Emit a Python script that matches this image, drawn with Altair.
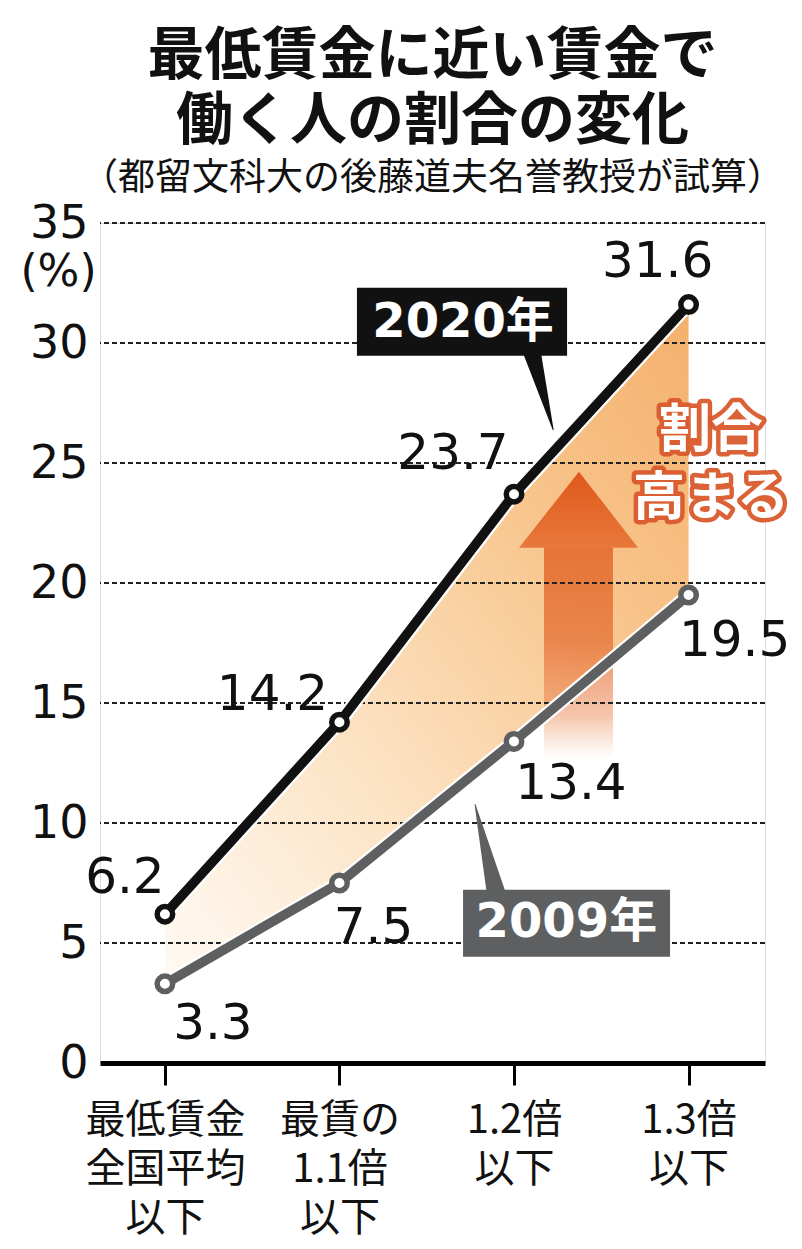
import json
import altair as alt
import pandas as pd

# ---------------- data ----------------
categories = ["最低賃金\n全国平均\n以下", "最賃の\n1.1倍\n以下", "1.2倍\n以下", "1.3倍\n以下"]
values_2020 = [6.2, 14.2, 23.7, 31.6]
values_2009 = [3.3, 7.5, 13.4, 19.5]
y_ticks = [0, 5, 10, 15, 20, 25, 30, 35]
series_names = ["2020年", "2009年"]
title_lines = ["最低賃金に近い賃金で", "働く人の割合の変化"]
subtitle_text = "（都留文科大の後藤道夫名誉教授が試算）"
callout_text = "割合\n高まる"

# ---------------- layout / style ----------------
W, H = 665, 840
X_DOMAIN = [-0.372, 3.438]
Y_DOMAIN = [0, 35]
PX_X = W / (X_DOMAIN[1] - X_DOMAIN[0])   # px per category step
PX_Y = H / (Y_DOMAIN[1] - Y_DOMAIN[0])   # px per percent

NUM_FONT = "DejaVu Sans, Noto Sans CJK JP"
JP_FONT = "Noto Sans CJK JP"
BLACK = "#111111"
GRAY = "#5e5f61"

# label offsets (pixels) relative to each point
OFF_2020 = [(-40, -36), (-67, -27), (-61, -40), (-31, -43)]
OFF_2009 = [(48, 40), (34, 45), (57, 43), (46, 46)]

idx = list(range(len(categories)))
df = pd.DataFrame({"xi": idx, "v2020": values_2020, "v2009": values_2009})

lab_rows = []
for i in idx:
    for vals, offs in ((values_2020, OFF_2020), (values_2009, OFF_2009)):
        dx, dy = offs[i]
        lab_rows.append({"lx": i + dx / PX_X, "ly": vals[i] - dy / PX_Y,
                         "t": f"{vals[i]:.1f}"})
labels_df = pd.DataFrame(lab_rows)

label_lines = [c.split("\n") for c in categories]
x_label_expr = json.dumps(label_lines, ensure_ascii=False) + "[datum.value]"

X_AXIS = alt.Axis(values=idx, labelExpr=x_label_expr, title=None, grid=False,
                  domain=True, domainColor="black", domainWidth=5,
                  ticks=True, tickSize=22, tickWidth=3, tickColor="black",
                  labelFont=JP_FONT, labelFontSize=40, labelLineHeight=49,
                  labelColor=BLACK, labelPadding=15, labelOverlap=False,
                  labelFlush=False)
Y_AXIS = alt.Axis(values=y_ticks, title="(%)", grid=False, domain=False, ticks=False,
                  labelFont=NUM_FONT, labelFontSize=46, labelColor=BLACK,
                  labelPadding=12, titleAngle=0, titleX=-42, titleY=49,
                  titleAlign="center", titleBaseline="middle",
                  titleFont=NUM_FONT, titleFontSize=44, titleFontWeight="normal",
                  titleColor=BLACK)
XS = alt.Scale(domain=X_DOMAIN, nice=False, zero=False)
YS = alt.Scale(domain=Y_DOMAIN, nice=False, zero=False)


def X(f):
    return alt.X(f"{f}:Q", scale=XS, axis=X_AXIS, title=None)


def Y(f):
    return alt.Y(f"{f}:Q", scale=YS, axis=Y_AXIS, title="(%)")


# ---------------- layers ----------------
area = alt.Chart(df).mark_area(
    color=alt.Gradient(gradient="linear", x1=0, y1=1, x2=1, y2=0, stops=[
        alt.GradientStop(offset=0, color="#fffaf4"),
        alt.GradientStop(offset=0.35, color="#fce3c4"),
        alt.GradientStop(offset=0.7, color="#f8c58c"),
        alt.GradientStop(offset=1, color="#f4b06c"),
    ])
).encode(x=X("xi"), y=Y("v2020"), y2="v2009")

# arrow annotation (data units)
shaft_df = pd.DataFrame({"x": [2.172], "x2": [2.567], "y": [21.6], "y2": [12.64]})
shaft = alt.Chart(shaft_df).mark_rect(
    fill=alt.Gradient(gradient="linear", x1=0, y1=0, x2=0, y2=1, stops=[
        alt.GradientStop(offset=0, color="rgba(230,115,55,1)"),
        alt.GradientStop(offset=0.45, color="rgba(231,122,64,0.85)"),
        alt.GradientStop(offset=0.8, color="rgba(235,140,90,0.5)"),
        alt.GradientStop(offset=1, color="rgba(240,170,130,0)"),
    ])
).encode(x=X("x"), x2="x2", y=Y("y"), y2="y2")

head_df = pd.DataFrame({"x": [2.029, 2.372, 2.711], "y": [21.47, 24.64, 21.47],
                        "y2": [21.47, 21.47, 21.47]})
head = alt.Chart(head_df).mark_area(
    color=alt.Gradient(gradient="linear", x1=0, y1=0, x2=0, y2=1, stops=[
        alt.GradientStop(offset=0, color="#df581b"),
        alt.GradientStop(offset=1, color="#e8783c"),
    ])
).encode(x=X("x"), y=Y("y"), y2="y2")

grid = alt.Chart(pd.DataFrame({"g": y_ticks[1:]})).mark_rule(
    color="#222222", strokeWidth=1.8, strokeDash=[5, 3]
).encode(y=Y("g"))


def series_layers(field, color):
    base = alt.Chart(df)
    halo = base.mark_line(color="white", strokeWidth=14).encode(x=X("xi"), y=Y(field))
    line = base.mark_line(color=color, strokeWidth=9.5).encode(x=X("xi"), y=Y(field))
    pts = base.mark_point(shape="circle", fill="white", stroke=color, strokeWidth=5.5,
                          size=240, opacity=1, fillOpacity=1, filled=False
                          ).encode(x=X("xi"), y=Y(field))
    return [halo, line, pts]


val_text = alt.Chart(labels_df).mark_text(
    font=NUM_FONT, fontSize=50, color=BLACK, baseline="middle", align="center"
).encode(x=X("lx"), y=Y("ly"), text="t:N")

# series name boxes with pointers (data units)
box_df = pd.DataFrame({
    "name": series_names,
    "x": [1.100, 1.708], "x2": [2.304, 2.894],
    "y": [32.30, 7.22], "y2": [29.47, 4.43],
    "tx": [1.708, 2.300], "ty": [30.85, 5.85],
})
ptr_df = pd.DataFrame({
    "name": [series_names[0]] * 2 + [series_names[1]] * 2,
    "x": [2.224, 2.100, 1.777, 1.900],
    "y": [26.39, 29.7, 10.77, 7.0],
    "w": [0, 18, 0, 19],
})
color_scale = alt.Scale(domain=series_names, range=[BLACK, GRAY])
boxes = alt.Chart(box_df).mark_rect().encode(
    x=X("x"), x2="x2", y=Y("y"), y2="y2",
    fill=alt.Fill("name:N", scale=color_scale, legend=None))
pointers = alt.Chart(ptr_df).mark_trail().encode(
    x=X("x"), y=Y("y"), detail="name:N",
    size=alt.Size("w:Q", scale=None, legend=None),
    color=alt.Color("name:N", scale=color_scale, legend=None))
box_text = alt.Chart(box_df).mark_text(
    font=NUM_FONT, fontSize=48, fontWeight="bold", color="white",
    baseline="middle", align="center"
).encode(x=X("tx"), y=Y("ty"), text="name:N")

# callout text (outline layer + white fill layer)
call_df = pd.DataFrame({"x": [3.128], "y": [26.35], "t": [callout_text]})
call_common = dict(font=JP_FONT, fontSize=52, fontWeight="bold", lineBreak="\n",
                   lineHeight=68, baseline="middle", align="center")
call_outline = alt.Chart(call_df).mark_text(
    color="#d24a22", stroke="#d9582c", strokeWidth=9, strokeJoin="round",
    strokeOpacity=0.95, **call_common
).encode(x=X("x"), y=Y("y"), text="t:N")
call_fill = alt.Chart(call_df).mark_text(color="white", **call_common
).encode(x=X("x"), y=Y("y"), text="t:N")

layers = [area, shaft, head, grid]
layers += series_layers("v2009", GRAY)
layers += series_layers("v2020", BLACK)
layers += [val_text, pointers, boxes, box_text, call_outline, call_fill]

chart = alt.layer(*layers).properties(
    width=W, height=H,
    title=alt.TitleParams(
        text=title_lines, subtitle=subtitle_text,
        font=JP_FONT, fontSize=57, fontWeight="bold", lineHeight=65, color=BLACK,
        subtitleFont=JP_FONT, subtitleFontSize=37, subtitleFontWeight="normal",
        subtitleColor=BLACK, subtitlePadding=10, anchor="middle", offset=2),
    padding={"left": 92, "top": 215, "right": 29, "bottom": 178},
    autosize=alt.AutoSizeParams(type="none"),
).configure_view(stroke=None).configure(background="white")

chart.save("out.html", embed_options={"renderer": "svg", "actions": False})
